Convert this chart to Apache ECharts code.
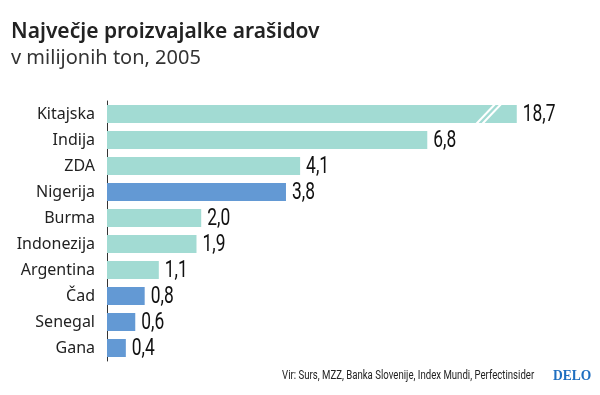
<!DOCTYPE html>
<html><head><meta charset="utf-8">
<script src="https://cdn.jsdelivr.net/npm/echarts@6/dist/echarts.min.js"></script>
<style>html,body{margin:0;padding:0;background:#fff}#c{width:600px;height:395px}</style>
</head><body><div id="c"></div>
<script>
const categories = ['Kitajska','Indija','ZDA','Nigerija','Burma','Indonezija','Argentina','Čad','Senegal','Gana'];
const values = [18.7, 6.8, 4.1, 3.8, 2.0, 1.9, 1.1, 0.8, 0.6, 0.4];
const african = [false, false, false, true, false, false, false, true, true, true];
const displayCap = 8.7;   // bar truncated (axis break) at this value
const breakAt = 8.05;

const TEAL = '#a2dbd3', BLUE = '#6399d4';
const fmt = v => v.toFixed(1).replace('.', ',');
const chart = echarts.init(document.getElementById('c'));
const barData = values.map((v,i)=>({
  value: Math.min(v, displayCap),
  itemStyle:{color: african[i] ? BLUE : TEAL}
}));
const labelData = values.map((v,i)=>[Math.min(v, displayCap), i, v]);

chart.setOption({
  animation:false,
  title:[
    {text:'Največje proizvajalke arašidov', left:11, top:22, padding:0,
     textStyle:{fontFamily:'Noto Sans', fontWeight:600, fontSize:21, color:'#222'}},
    {text:'v milijonih ton, 2005', left:11, top:48, padding:0,
     textStyle:{fontFamily:'Noto Sans', fontWeight:400, fontSize:20, color:'#333'}}
  ],
  grid:{left:107, top:101, width:471, height:260},
  xAxis:{type:'value', min:0, max:10, show:false},
  yAxis:{type:'category', inverse:true, data:categories,
    axisLine:{show:true, lineStyle:{color:'#333', width:1}},
    axisTick:{show:false},
    axisLabel:{margin:12, fontFamily:'Noto Sans', fontSize:16, color:'#222'}},
  series:[{
    type:'bar', data:barData, barWidth:18
  },{
    type:'custom', data:labelData, encode:{x:0, y:1}, z:5,
    renderItem:(params, api)=>{
      const p = api.coord([api.value(0), api.value(1)]);
      return {type:'text', x:p[0]+6, y:p[1]+1, scaleX:0.74,
        style:{text:fmt(api.value(2)), fontFamily:'Roboto', fontWeight:400, fontSize:23.5,
               fill:'#111', align:'left', verticalAlign:'middle'}};
    }
  }]
});
const p0 = chart.convertToPixel({seriesIndex:0}, [breakAt, 0]);
const xb = p0[0], yc = p0[1], h = 9;
chart.setOption({graphic:[
  {type:'text', x:282, y:376, scaleX:0.77, style:{text:'Vir: Surs, MZZ, Banka Slovenije, Index Mundi, Perfectinsider',
      fontFamily:'Roboto', fontSize:12.5, fill:'#222', verticalAlign:'middle'}},
  {type:'text', x:553, y:376, scaleX:0.9, style:{text:'DELO',
      fontFamily:'Liberation Serif', fontWeight:'bold', fontSize:15, fill:'#1f6fc0', verticalAlign:'middle'}},
  {type:'line', z:10, shape:{x1:xb-10, y1:yc+h+1, x2:xb+9, y2:yc-h-1}, style:{stroke:'#fff', lineWidth:2}},
  {type:'line', z:10, shape:{x1:xb-4, y1:yc+h+1, x2:xb+15, y2:yc-h-1}, style:{stroke:'#fff', lineWidth:2}}
]});
</script></body></html>
